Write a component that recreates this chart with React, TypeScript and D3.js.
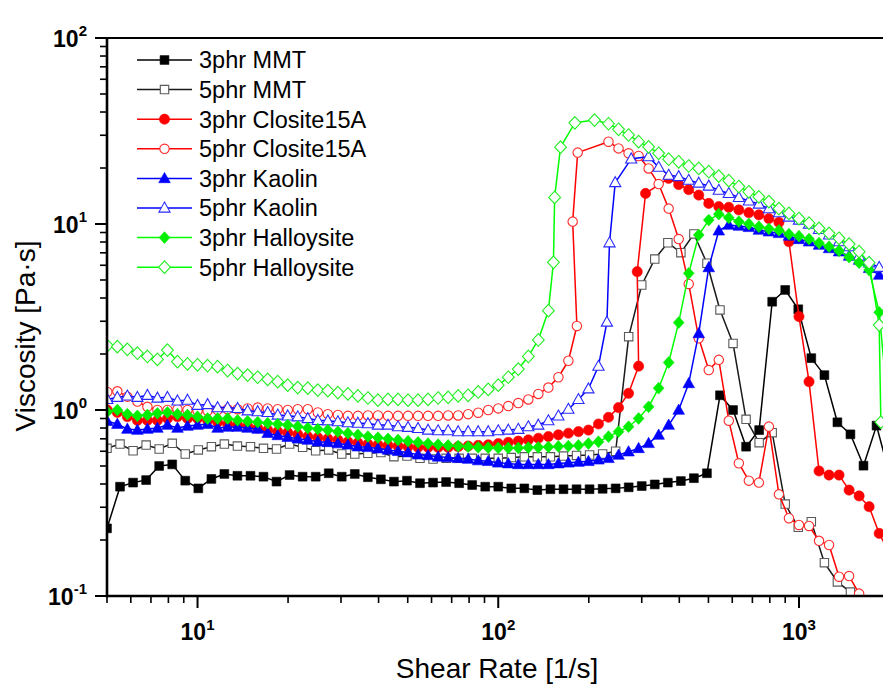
import React from 'react';
import * as d3 from 'd3';

// Shear-rate grids (1/s)
const gridA = [5.0, 5.525, 6.105, 6.746, 7.455, 8.238, 9.103, 10.06, 11.12, 12.28, 13.57, 15.0, 16.57, 18.31, 20.24, 22.36, 24.71, 27.31, 30.17, 33.34, 36.84, 40.71, 44.99, 49.71, 54.93, 60.7, 67.08, 74.12, 81.91, 90.51, 100.0, 110.5, 122.1, 134.9, 149.1, 164.8, 182.1, 201.2, 222.4, 245.7, 271.5, 300.0, 331.5, 366.4, 404.8, 447.3, 494.3, 546.2, 603.6, 667.0, 737.1, 814.5, 900.0, 994.5, 1099, 1215, 1342, 1483, 1639, 1811, 2000];
const gridB = [5.012, 5.412, 5.843, 6.31, 6.813, 7.356, 7.943, 8.577, 9.261, 10.0, 10.8, 11.66, 12.59, 13.59, 14.68, 15.85, 17.11, 18.48, 19.95, 21.54, 23.26, 25.12, 27.12, 29.29, 31.62, 34.15, 36.87, 39.81, 42.99, 46.42, 50.12, 54.12, 58.43, 63.1, 68.13, 73.56, 79.43, 85.77, 92.61, 100, 108, 116.6, 125.9, 135.9, 146.8, 158.5, 171.1, 184.8, 199.5, 215.4, 232.6, 251.2, 271.2, 292.9, 316.2, 341.5, 368.7, 398.1, 429.9, 464.2, 501.2, 541.2, 584.3, 631, 681.3, 735.6, 794.3, 857.7, 926.1, 1000, 1080, 1166, 1259, 1359, 1468, 1585, 1711, 1848, 1995];

// 3phr MMT
const mmt3Rate = gridA;
const mmt3Visc = [0.231, 0.387, 0.407, 0.42, 0.5, 0.51, 0.417, 0.379, 0.426, 0.453,
  0.443, 0.443, 0.438, 0.412, 0.447, 0.438, 0.438, 0.457, 0.438, 0.453,
  0.435, 0.424, 0.412, 0.417, 0.404, 0.407, 0.41, 0.404, 0.395, 0.387,
  0.387, 0.379, 0.379, 0.371, 0.375, 0.375, 0.375, 0.375, 0.377, 0.379,
  0.384, 0.39, 0.398, 0.407, 0.415, 0.43, 0.457, 1.2, 1.0, 0.635,
  0.78, 3.82, 4.42, 3.48, 1.9, 1.54, 0.859, 0.74, 0.502, 0.824, 0.45];

// 5phr MMT
const mmt5Rate = gridA.slice(0, 59);
const mmt5Visc = [0.622, 0.656, 0.604, 0.648, 0.617, 0.662, 0.58, 0.61, 0.635, 0.656,
  0.64, 0.635, 0.622, 0.617, 0.656, 0.63, 0.604, 0.61, 0.58, 0.58,
  0.585, 0.59, 0.561, 0.566, 0.55, 0.545, 0.55, 0.55, 0.55, 0.55,
  0.55, 0.555, 0.56, 0.56, 0.56, 0.565, 0.57, 0.573, 0.58, 0.6,
  2.48, 4.7, 6.48, 7.93, 7.01, 8.84, 6.15, 3.45, 2.28, 0.891,
  0.667, 0.755, 0.312, 0.234, 0.251, 0.151, 0.119, 0.105, 0.085];

// 3phr Closite15A
const clo3Rate = [...gridB.slice(0, 54), 289.8, 308.9, ...gridB.slice(56)];
const clo3Visc = [1.0, 0.97, 0.92, 0.88, 0.88, 0.88, 0.9, 0.92, 0.9, 0.9,
  0.88, 0.86, 0.84, 0.83, 0.82, 0.8, 0.78, 0.765, 0.755, 0.74,
  0.72, 0.71, 0.7, 0.69, 0.675, 0.665, 0.655, 0.65, 0.645, 0.64,
  0.635, 0.63, 0.63, 0.63, 0.63, 0.635, 0.64, 0.645, 0.65, 0.66,
  0.67, 0.68, 0.69, 0.705, 0.72, 0.735, 0.75, 0.765, 0.78, 0.841,
  0.914, 1.03, 1.23, 1.72,
  5.54, 14.6,
  17.6, 16.3, 15.3, 14.3, 12.9, 12.4, 12.3, 11.9, 11.5, 11.2, 10.7, 10.2,
  8.03, 3.18, 1.42, 0.47, 0.447, 0.447, 0.371, 0.345, 0.302, 0.217, 0.17];

// 5phr Closite15A
const clo5Rate = [...gridB.slice(0, 47), 182.6, 176.8, 183.7, ...gridB.slice(50, 77)];
const clo5Visc = [1.25, 1.26, 1.18, 1.11, 1.04, 1.0, 1.0, 1.01, 1.0, 0.99,
  0.99, 1.0, 1.01, 1.01, 1.02, 1.03, 1.02, 1.01, 1.0, 1.01,
  1.01, 0.97, 0.95, 0.94, 0.93, 0.93, 0.935, 0.935, 0.93, 0.93,
  0.93, 0.93, 0.93, 0.93, 0.935, 0.935, 0.95, 0.967, 1.0, 1.02,
  1.05, 1.09, 1.14, 1.22, 1.32, 1.5, 1.84,
  2.83, 10.3, 24.2,
  27.7, 25.5, 24.0, 23.2, 19.9, 16.4, 12.1, 8.3, 4.76, 2.43,
  1.64, 1.86, 0.876, 0.517, 0.417, 0.407, 0.814, 0.352, 0.262, 0.241,
  0.238, 0.198, 0.188, 0.127, 0.128, 0.103, 0.085];

// 3phr Kaolin
const kao3Rate = gridB;
const kao3Visc = [0.87, 0.84, 0.79, 0.78, 0.79, 0.8, 0.83, 0.8, 0.82, 0.83,
  0.84, 0.8, 0.81, 0.81, 0.8, 0.79, 0.75, 0.73, 0.715, 0.7,
  0.69, 0.675, 0.67, 0.66, 0.65, 0.635, 0.63, 0.62, 0.61, 0.6,
  0.59, 0.575, 0.57, 0.56, 0.555, 0.55, 0.545, 0.535, 0.53, 0.52,
  0.515, 0.51, 0.51, 0.51, 0.51, 0.515, 0.52, 0.525, 0.53, 0.54,
  0.55, 0.573, 0.597, 0.622, 0.662, 0.734, 0.83, 1.0, 1.39, 2.58,
  5.84, 9.2, 9.88, 9.76, 9.6, 9.29, 9.09, 8.91, 8.62, 8.27,
  8.03, 7.71, 7.39, 7.1, 6.73, 6.4, 5.78, 5.32, 5.0];

// 5phr Kaolin
const kao5Rate = [...gridB.slice(0, 50), 229.8, 234.4, 244.9, 276.8, 316.0, ...gridB.slice(55)];
const kao5Visc = [1.14, 1.17, 1.19, 1.17, 1.2, 1.16, 1.17, 1.12, 1.13, 1.06,
  1.07, 1.03, 1.03, 1.02, 0.99, 0.98, 0.97, 0.94, 0.93, 0.92,
  0.9, 0.88, 0.875, 0.865, 0.855, 0.85, 0.845, 0.83, 0.83, 0.813,
  0.807, 0.797, 0.78, 0.774, 0.774, 0.765, 0.765, 0.765, 0.765, 0.774,
  0.78, 0.788, 0.813, 0.83, 0.876, 0.929, 1.01, 1.14, 1.3, 1.72,
  2.97, 7.93, 16.7, 22.4, 23.0,
  20.2, 18.3, 18.0, 17.2, 16.6, 16.0, 15.2, 14.6, 13.9, 13.3,
  12.8, 12.1, 11.5, 10.9, 10.5, 10.0, 9.36, 8.73, 8.03, 7.55,
  6.73, 6.19, 5.85, 5.4];

// 3phr Halloysite
const hal3Rate = gridB;
const hal3Visc = [0.98, 1.0, 0.95, 0.93, 0.94, 0.96, 0.97, 0.95, 0.94, 0.92,
  0.9, 0.9, 0.9, 0.88, 0.87, 0.86, 0.85, 0.84, 0.83, 0.815,
  0.8, 0.79, 0.78, 0.765, 0.75, 0.735, 0.72, 0.71, 0.7, 0.69,
  0.68, 0.67, 0.66, 0.652, 0.645, 0.64, 0.635, 0.63, 0.627, 0.625,
  0.625, 0.625, 0.628, 0.63, 0.633, 0.637, 0.64, 0.645, 0.66, 0.675,
  0.719, 0.765, 0.813, 0.9, 1.04, 1.31, 1.8, 2.95, 5.43, 8.73,
  10.5, 11.3, 10.8, 10.3, 10.0, 9.67, 9.42, 9.25, 8.82, 8.6,
  8.3, 7.9, 7.55, 7.17, 6.63, 6.19, 5.66, 3.35, 0.9];

// 5phr Halloysite
const hal5Rate = [...gridB.slice(0, 45), 152.6, 154.0, 161.1, 179.8, 209.0, ...gridB.slice(50, 78), 1872];
const hal5Visc = [2.22, 2.19, 2.12, 2.02, 1.94, 1.87, 2.1, 1.82, 1.77, 1.75,
  1.73, 1.71, 1.63, 1.57, 1.54, 1.5, 1.46, 1.42, 1.36, 1.32,
  1.31, 1.28, 1.27, 1.24, 1.22, 1.19, 1.16, 1.13, 1.14, 1.14,
  1.13, 1.13, 1.14, 1.16, 1.17, 1.19, 1.2, 1.25, 1.29, 1.36,
  1.5, 1.66, 1.94, 2.38, 3.42,
  6.22, 13.9, 25.9, 35.0, 36.2,
  34.6, 32.3, 30.1, 27.7, 26.0, 24.0, 22.3, 21.6, 20.5, 19.9,
  19.1, 18.1, 17.1, 15.9, 14.9, 14.0, 13.2, 12.1, 11.4, 10.7,
  10.1, 9.48, 8.91, 8.38, 7.8, 7.1, 6.19, 2.86,
  0.86];

const seriesNames = ['3phr MMT', '5phr MMT', '3phr Closite15A', '5phr Closite15A', '3phr Kaolin', '5phr Kaolin', '3phr Halloysite', '5phr Halloysite'];
const yTicks = [0.1, 1, 10, 100];
const yTickExp = ['-1', '0', '1', '2'];
const xTicks = [10, 100, 1000];
const xTickExp = ['1', '2', '3'];

type Shape = 'square' | 'circle' | 'triangle' | 'diamond';
interface Series { name: string; rate: number[]; visc: number[]; line: string; stroke: string; shape: Shape; filled: boolean; }

const series: Series[] = [
  { name: seriesNames[0], rate: mmt3Rate, visc: mmt3Visc, line: '#000000', stroke: '#000000', shape: 'square', filled: true },
  { name: seriesNames[1], rate: mmt5Rate, visc: mmt5Visc, line: '#1a1a1a', stroke: '#5a5a5a', shape: 'square', filled: false },
  { name: seriesNames[2], rate: clo3Rate, visc: clo3Visc, line: '#ff0000', stroke: '#ff0000', shape: 'circle', filled: true },
  { name: seriesNames[3], rate: clo5Rate, visc: clo5Visc, line: '#ff0000', stroke: '#ff2a2a', shape: 'circle', filled: false },
  { name: seriesNames[4], rate: kao3Rate, visc: kao3Visc, line: '#0000ff', stroke: '#0000ff', shape: 'triangle', filled: true },
  { name: seriesNames[5], rate: kao5Rate, visc: kao5Visc, line: '#0000ff', stroke: '#2a2aff', shape: 'triangle', filled: false },
  { name: seriesNames[6], rate: hal3Rate, visc: hal3Visc, line: '#00ff00', stroke: '#00ee00', shape: 'diamond', filled: true },
  { name: seriesNames[7], rate: hal5Rate, visc: hal5Visc, line: '#00ff00', stroke: '#22ee22', shape: 'diamond', filled: false },
];

const W = 883, H = 685;
const L = 107, T = 38, B = 596;
const x = d3.scaleLog().domain([5, 2000]).range([L, 889.5]);
const y = d3.scaleLog().domain([0.1, 100]).range([B, T]);
const FONT = '"Liberation Sans", Arial, Helvetica, sans-serif';

function Marker({ shape, filled, color, cx, cy }: { shape: Shape; filled: boolean; color: string; cx: number; cy: number }) {
  const fill = filled ? color : '#ffffff';
  const sw = filled ? 0.6 : 1.1;
  if (shape === 'circle') {
    return <circle cx={cx} cy={cy} r={filled ? 5.1 : 4.7} fill={fill} stroke={color} strokeWidth={sw} />;
  }
  let d = '';
  if (shape === 'square') {
    const s = filled ? 4.4 : 4.2;
    d = `M${-s},${-s}H${s}V${s}H${-s}Z`;
  } else if (shape === 'triangle') {
    d = filled ? 'M0,-6L5.8,4.3L-5.8,4.3Z' : 'M0,-5.9L5.6,4.1L-5.6,4.1Z';
  } else {
    d = filled ? 'M0,-5.9L5.4,0L0,5.9L-5.4,0Z' : 'M0,-6.3L5.9,0L0,6.3L-5.9,0Z';
  }
  return <path d={d} transform={`translate(${cx},${cy})`} fill={fill} stroke={color} strokeWidth={sw} />;
}

export default function App() {
  const line = d3.line<[number, number]>().x(d => x(d[0])).y(d => y(d[1]));
  const yMinor: number[] = [];
  [0.1, 1, 10].forEach(dec => { for (let k = 2; k <= 9; k++) yMinor.push(dec * k); });
  const xMinor: number[] = [];
  [1, 10, 100, 1000].forEach(dec => { for (let k = 2; k <= 9; k++) { const v = dec * k; if (v >= 5 && v <= 2000) xMinor.push(v); } });

  return (
    <svg width={W} height={H} style={{ position: 'fixed', left: 0, top: 0, background: '#fff' }} fontFamily={FONT}>
      <rect x={0} y={0} width={W} height={H} fill="#ffffff" />
      <defs>
        <clipPath id="plotclip"><rect x={L} y={T} width={790} height={B - T} /></clipPath>
      </defs>
      <g clipPath="url(#plotclip)">
        {series.map(s => {
          const pts: [number, number][] = s.rate.map((r, i) => [r, s.visc[i]] as [number, number]);
          return (
            <g key={s.name}>
              <path d={line(pts) || ''} fill="none" stroke={s.line} strokeWidth={1.5} strokeLinejoin="round" />
              {pts.map((p, i) => (
                <Marker key={i} shape={s.shape} filled={s.filled} color={s.stroke} cx={x(p[0])} cy={y(p[1])} />
              ))}
            </g>
          );
        })}
      </g>
      {/* frame */}
      <line x1={L} x2={W} y1={T} y2={T} stroke="#000" strokeWidth={2} />
      <line x1={L} x2={L} y1={T - 1} y2={B + 1.3} stroke="#000" strokeWidth={2.6} />
      <line x1={L - 1.3} x2={W} y1={B} y2={B} stroke="#000" strokeWidth={2.6} />
      {/* y ticks */}
      {yTicks.map((v, i) => (
        <g key={'yt' + v}>
          <line x1={L - 12} x2={L} y1={y(v)} y2={y(v)} stroke="#000" strokeWidth={2} />
          <text x={87} y={y(v) + 8.5} textAnchor="end" fontWeight="bold" fontSize={23}>
            10<tspan fontSize={15} dy={-10.5}>{yTickExp[i]}</tspan>
          </text>
        </g>
      ))}
      {yMinor.map(v => (
        <line key={'ym' + v} x1={L - 7} x2={L} y1={y(v)} y2={y(v)} stroke="#000" strokeWidth={1.6} />
      ))}
      {/* x ticks */}
      {xTicks.map((v, i) => (
        <g key={'xt' + v}>
          <line x1={x(v)} x2={x(v)} y1={B} y2={B + 12} stroke="#000" strokeWidth={2} />
          <text x={x(v)} y={640} textAnchor="middle" fontWeight="bold" fontSize={23}>
            10<tspan fontSize={15} dy={-10.5}>{xTickExp[i]}</tspan>
          </text>
        </g>
      ))}
      {xMinor.map(v => (
        <line key={'xm' + v} x1={x(v)} x2={x(v)} y1={B} y2={B + 7} stroke="#000" strokeWidth={1.6} />
      ))}
      {/* axis titles */}
      <text x={497} y={678} textAnchor="middle" fontSize={28}>Shear Rate [1/s]</text>
      <text transform="translate(35,336) rotate(-90)" textAnchor="middle" fontSize={28}>Viscosity [Pa·s]</text>
      {/* legend */}
      {series.map((s, i) => {
        const ly = 60 + i * 29.6;
        return (
          <g key={'lg' + s.name}>
            <line x1={137} x2={192} y1={ly} y2={ly} stroke={s.line} strokeWidth={1.5} />
            <Marker shape={s.shape} filled={s.filled} color={s.stroke} cx={164.5} cy={ly} />
            <text x={199} y={ly + 8.3} fontSize={23.5}>{s.name}</text>
          </g>
        );
      })}
    </svg>
  );
}
